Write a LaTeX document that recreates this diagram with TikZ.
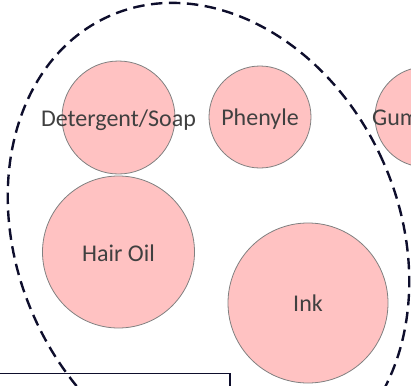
\documentclass[tikz,border=0pt]{standalone}
\usepackage{fontspec}
\setmainfont{Carlito}
\definecolor{bubblefill}{HTML}{FFC2C2}
\definecolor{bubbleline}{HTML}{808080}
\definecolor{labelgray}{HTML}{404040}
\definecolor{navyline}{HTML}{0E0E2C}
\tikzset{
  bubble/.style={circle, draw=bubbleline, line width=0.8pt, fill=bubblefill, inner sep=0pt},
  bubbletext/.style={anchor=base, inner sep=0pt, text=labelgray, font=\fontsize{24pt}{28pt}\selectfont},
  grouprim/.style={draw=navyline, line width=2.4pt, dash pattern=on 11.5pt off 6.5pt},
  framebox/.style={draw=navyline, line width=1.5pt}
}
\begin{document}
\begin{tikzpicture}[x=1pt, y=-1pt]
\useasboundingbox (0,0) rectangle (411,385);
\clip (0,0) rectangle (411,385);

% product bubbles
\node[bubble, minimum size=113pt] (soap) at (118.5,117.5) {};
\node[bubble, minimum size=102pt] (phenyle) at (260,117) {};
\node[bubble, minimum size=100pt] (gum) at (425,117) {};
\node[bubble, minimum size=152pt] (hairoil) at (118.5,252) {};
\node[bubble, minimum size=160pt] (ink) at (308,303) {};

% bubble labels
\node[bubbletext] (soaplabel) at ([yshift=-8.5pt]soap.center) {Detergent/Soap};
\node[bubbletext] (phenylelabel) at ([yshift=-8pt]phenyle.center) {Phenyle};
\node[bubbletext, anchor=base west] (gumlabel) at ([xshift=-53pt, yshift=-8pt]gum.center) {Gum};
\node[bubbletext] (hairoillabel) at ([yshift=-9pt]hairoil.center) {Hair Oil};
\node[bubbletext] (inklabel) at ([yshift=-8pt]ink.center) {Ink};

% dashed group outline
\coordinate (groupc) at (208.5,239);
\draw[grouprim] (groupc) ellipse [x radius=191pt, y radius=244pt, rotate=24];

% box along the lower edge
\coordinate (boxtl) at (-20,373.5);
\coordinate (boxbr) at (230,420);
\draw[framebox] (boxtl) rectangle (boxbr);
\end{tikzpicture}
\end{document}
